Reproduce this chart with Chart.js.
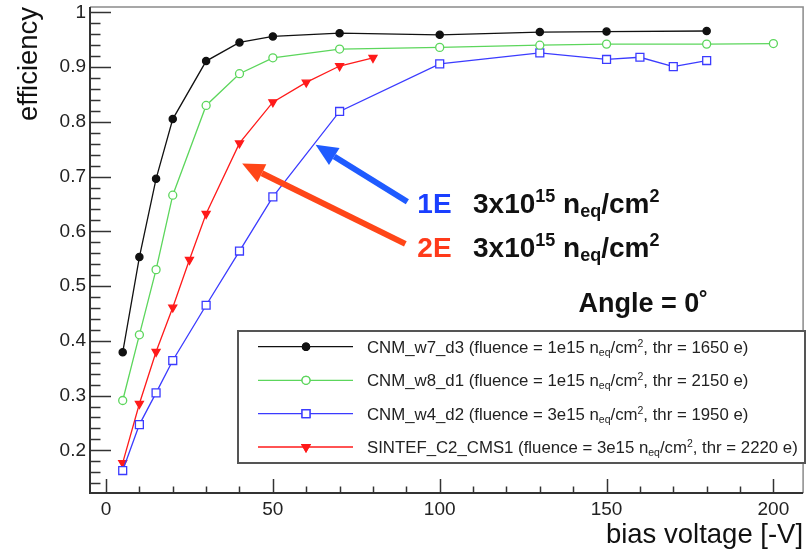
<!DOCTYPE html>
<html>
<head>
<meta charset="utf-8">
<script src="https://cdn.jsdelivr.net/npm/chart.js@4.4.1/dist/chart.umd.min.js"></script>
<style>
    html, body { margin: 0; padding: 0; background: #fff; }
</style>
</head>
<body>
<canvas id="effChart" width="810" height="552"></canvas>
<script>
// bias voltage [-V] and efficiency, one pair of arrays per sensor
const voltsW7 = [5, 10, 15, 20, 30, 40, 50, 70, 100, 130, 150, 180];
const effW7 = [0.379, 0.553, 0.696, 0.805, 0.911, 0.945, 0.956, 0.962, 0.959, 0.964, 0.965, 0.966];

const voltsW8 = [5, 10, 15, 20, 30, 40, 50, 70, 100, 130, 150, 180, 200];
const effW8 = [0.291, 0.411, 0.530, 0.666, 0.830, 0.888, 0.917, 0.933, 0.936, 0.940, 0.942, 0.942, 0.943];

const voltsW4 = [5, 10, 15, 20, 30, 40, 50, 70, 100, 130, 150, 160, 170, 180];
const effW4 = [0.163, 0.247, 0.305, 0.364, 0.465, 0.564, 0.663, 0.819, 0.906, 0.926, 0.914, 0.918, 0.901, 0.912];

const voltsSintef = [5, 10, 15, 20, 25, 30, 40, 50, 60, 70, 80];
const effSintef = [0.177, 0.285, 0.380, 0.461, 0.548, 0.632, 0.761, 0.836, 0.872, 0.902, 0.917];

// legend info
const sensorNames = ['CNM_w7_d3', 'CNM_w8_d1', 'CNM_w4_d2', 'SINTEF_C2_CMS1'];
const fluences = ['1e15', '1e15', '3e15', '3e15'];
const thresholds = [1650, 2150, 1950, 2220];

// axis ticks
const xTicks = [0, 50, 100, 150, 200];
const yTicks = [0.2, 0.3, 0.4, 0.5, 0.6, 0.7, 0.8, 0.9, 1.0];

const FONT = "'Liberation Sans', Arial, Helvetica, sans-serif";
const colors = ['#111111', '#5cd65c', '#3b3bff', '#ff1a1a'];

const toPoints = (xs, ys) => xs.map((v, i) => ({ x: v, y: ys[i] }));

// draws text pieces one after another (for sub/superscripts)
function drawRich(ctx, x, y, parts) {
    parts.forEach(p => {
        ctx.font = p.font;
        ctx.fillStyle = p.color || '#222';
        ctx.fillText(p.t, x, y + (p.dy || 0));
        x += ctx.measureText(p.t).width;
    });
    return x;
}

function drawArrow(ctx, x0, y0, x1, y1, color) {
    const ang = Math.atan2(y1 - y0, x1 - x0);
    const head = 22, hw = 10;
    const bx = x1 - head * Math.cos(ang), by = y1 - head * Math.sin(ang);
    ctx.strokeStyle = color;
    ctx.fillStyle = color;
    ctx.lineWidth = 6;
    ctx.beginPath();
    ctx.moveTo(x0, y0);
    ctx.lineTo(bx, by);
    ctx.stroke();
    ctx.beginPath();
    ctx.moveTo(x1, y1);
    ctx.lineTo(bx + hw * Math.sin(ang), by - hw * Math.cos(ang));
    ctx.lineTo(bx - hw * Math.sin(ang), by + hw * Math.cos(ang));
    ctx.closePath();
    ctx.fill();
}

// ROOT style frame, inside ticks, legend and annotations
const rootStyle = {
    id: 'rootStyle',
    afterDraw(chart) {
        const { ctx, chartArea: a, scales: { x, y } } = chart;
        ctx.save();

        // frame
        ctx.strokeStyle = '#8a8a8a';
        ctx.lineWidth = 1.5;
        ctx.beginPath();
        ctx.moveTo(a.left, a.top);
        ctx.lineTo(a.right, a.top);
        ctx.lineTo(a.right, a.bottom);
        ctx.stroke();
        ctx.strokeStyle = '#333';
        ctx.lineWidth = 2;
        ctx.beginPath();
        ctx.moveTo(a.left, a.top);
        ctx.lineTo(a.left, a.bottom);
        ctx.lineTo(a.right, a.bottom);
        ctx.stroke();

        // y ticks (major 0.1, minor 0.02)
        ctx.lineWidth = 1.5;
        for (let k = 7; k <= 50; k++) {
            const v = k / 50;
            if (v < y.min || v > y.max) continue;
            const py = Math.round(y.getPixelForValue(v)) + 0.5;
            const len = k % 5 === 0 ? 21 : 10.5;
            ctx.beginPath();
            ctx.moveTo(a.left, py);
            ctx.lineTo(a.left + len, py);
            ctx.stroke();
        }
        // x ticks (major 50, minor 10)
        for (let v = 0; v <= x.max; v += 10) {
            const px = Math.round(x.getPixelForValue(v)) + 0.5;
            const len = v % 50 === 0 ? 14 : 6.5;
            ctx.beginPath();
            ctx.moveTo(px, a.bottom);
            ctx.lineTo(px, a.bottom - len);
            ctx.stroke();
        }

        // legend box
        const bx0 = 238, by0 = 331, bx1 = 805, by1 = 463;
        ctx.fillStyle = '#fff';
        ctx.fillRect(bx0, by0, bx1 - bx0, by1 - by0);
        ctx.strokeStyle = '#555';
        ctx.lineWidth = 2;
        ctx.strokeRect(bx0, by0, bx1 - bx0, by1 - by0);

        const rowY = [346.7, 380.3, 413.7, 447];
        const main = '16.8px ' + FONT, small = '10.5px ' + FONT;
        chart.data.datasets.forEach((ds, i) => {
            const ry = rowY[i];
            ctx.strokeStyle = ds.borderColor;
            ctx.lineWidth = 1.3;
            ctx.beginPath();
            ctx.moveTo(258, ry);
            ctx.lineTo(353, ry);
            ctx.stroke();
            Chart.helpers.drawPoint(ctx, {
                pointStyle: ds.pointStyle,
                rotation: ds.pointRotation || 0,
                radius: ds.pointRadius,
                borderWidth: ds.pointBorderWidth
            }, 306, ry);
            ctx.fillStyle = ds.pointBackgroundColor;
            ctx.strokeStyle = ds.borderColor;
            ctx.lineWidth = ds.pointBorderWidth;
            ctx.fill();
            ctx.stroke();

            ctx.textBaseline = 'alphabetic';
            ctx.textAlign = 'left';
            drawRich(ctx, 367, ry + 6, [
                { t: sensorNames[i] + ' (fluence = ' + fluences[i] + ' n', font: main },
                { t: 'eq', font: small, dy: 3 },
                { t: '/cm', font: main },
                { t: '2', font: small, dy: -6 },
                { t: ', thr = ' + thresholds[i] + ' e)', font: main }
            ]);
        });

        // annotations, anchored in data coordinates
        drawArrow(ctx, x.getPixelForValue(90.3), y.getPixelForValue(0.654),
            x.getPixelForValue(62.8), y.getPixelForValue(0.758), '#1f5bff');
        drawArrow(ctx, x.getPixelForValue(89.7), y.getPixelForValue(0.577),
            x.getPixelForValue(40.8), y.getPixelForValue(0.724), '#ff4618');

        const big = 'bold 28px ' + FONT, sup = 'bold 18px ' + FONT;
        const labels = [['1E', '#1a3fff', 0.634], ['2E', '#ff3a1a', 0.554]];
        labels.forEach(([tag, col, yv]) => {
            const tx = x.getPixelForValue(93.3), ty = y.getPixelForValue(yv);
            drawRich(ctx, tx, ty, [{ t: tag, font: big, color: col }]);
            drawRich(ctx, 473, ty, [
                { t: '3x10', font: big, color: '#111' },
                { t: '15', font: sup, color: '#111', dy: -11 },
                { t: ' n', font: big, color: '#111' },
                { t: 'eq', font: sup, color: '#111', dy: 4 },
                { t: '/cm', font: big, color: '#111' },
                { t: '2', font: sup, color: '#111', dy: -11 }
            ]);
        });

        drawRich(ctx, x.getPixelForValue(141.6), y.getPixelForValue(0.452), [
            { t: 'Angle = 0\u02DA', font: 'bold 27px ' + FONT, color: '#111' }
        ]);

        ctx.restore();
    }
};

const series = [
    { v: voltsW7, e: effW7, style: 'circle', r: 3.6, fill: colors[0], rot: 0 },
    { v: voltsW8, e: effW8, style: 'circle', r: 4, fill: '#fff', rot: 0 },
    { v: voltsW4, e: effW4, style: 'rect', r: 5.6, fill: '#fff', rot: 0 },
    { v: voltsSintef, e: effSintef, style: 'triangle', r: 4.6, fill: colors[3], rot: 180 }
];

const ctx = document.getElementById('effChart').getContext('2d');
const effChart = new Chart(ctx, {
    type: 'line',
    data: {
        datasets: series.map((s, i) => ({
            label: sensorNames[i],
            data: toPoints(s.v, s.e),
            borderColor: colors[i],
            borderWidth: 1.3,
            backgroundColor: s.fill,
            pointStyle: s.style,
            pointRadius: s.r,
            pointRotation: s.rot,
            pointBackgroundColor: s.fill,
            pointBorderColor: colors[i],
            pointBorderWidth: 1.3,
            tension: 0,
            fill: false
        }))
    },
    options: {
        responsive: false,
        animation: false,
        devicePixelRatio: 1,
        layout: { padding: { top: 5, right: 3, left: 0, bottom: 0 } },
        plugins: {
            legend: { display: false },
            tooltip: { enabled: false }
        },
        scales: {
            x: {
                type: 'linear',
                min: -4.8,
                max: 208.9,
                afterBuildTicks: s => { s.ticks = xTicks.map(v => ({ value: v })); },
                afterFit: s => { s.height = 59; s.paddingLeft = 0; s.paddingRight = 0; },
                grid: { display: false, drawTicks: false },
                border: { display: false },
                ticks: {
                    font: { family: FONT, size: 19 },
                    color: '#222',
                    padding: 5,
                    maxRotation: 0,
                    autoSkip: false
                },
                title: {
                    display: true,
                    text: 'bias voltage [-V]',
                    align: 'end',
                    color: '#111',
                    font: { family: FONT, size: 27.5 },
                    padding: { top: 0, bottom: 0 }
                }
            },
            y: {
                min: 0.122,
                max: 1.01,
                afterBuildTicks: s => { s.ticks = yTicks.map(v => ({ value: v })); },
                afterFit: s => { s.width = 90; s.paddingTop = 0; s.paddingBottom = 0; },
                grid: { display: false, drawTicks: false },
                border: { display: false },
                ticks: {
                    font: { family: FONT, size: 19 },
                    color: '#222',
                    padding: 4,
                    callback: v => (v === 1 ? '1' : v.toFixed(1))
                },
                title: {
                    display: true,
                    text: 'efficiency',
                    align: 'end',
                    color: '#111',
                    font: { family: FONT, size: 27.5 },
                    padding: { top: 13, bottom: 0 }
                }
            }
        }
    },
    plugins: [rootStyle]
});
</script>
</body>
</html>
